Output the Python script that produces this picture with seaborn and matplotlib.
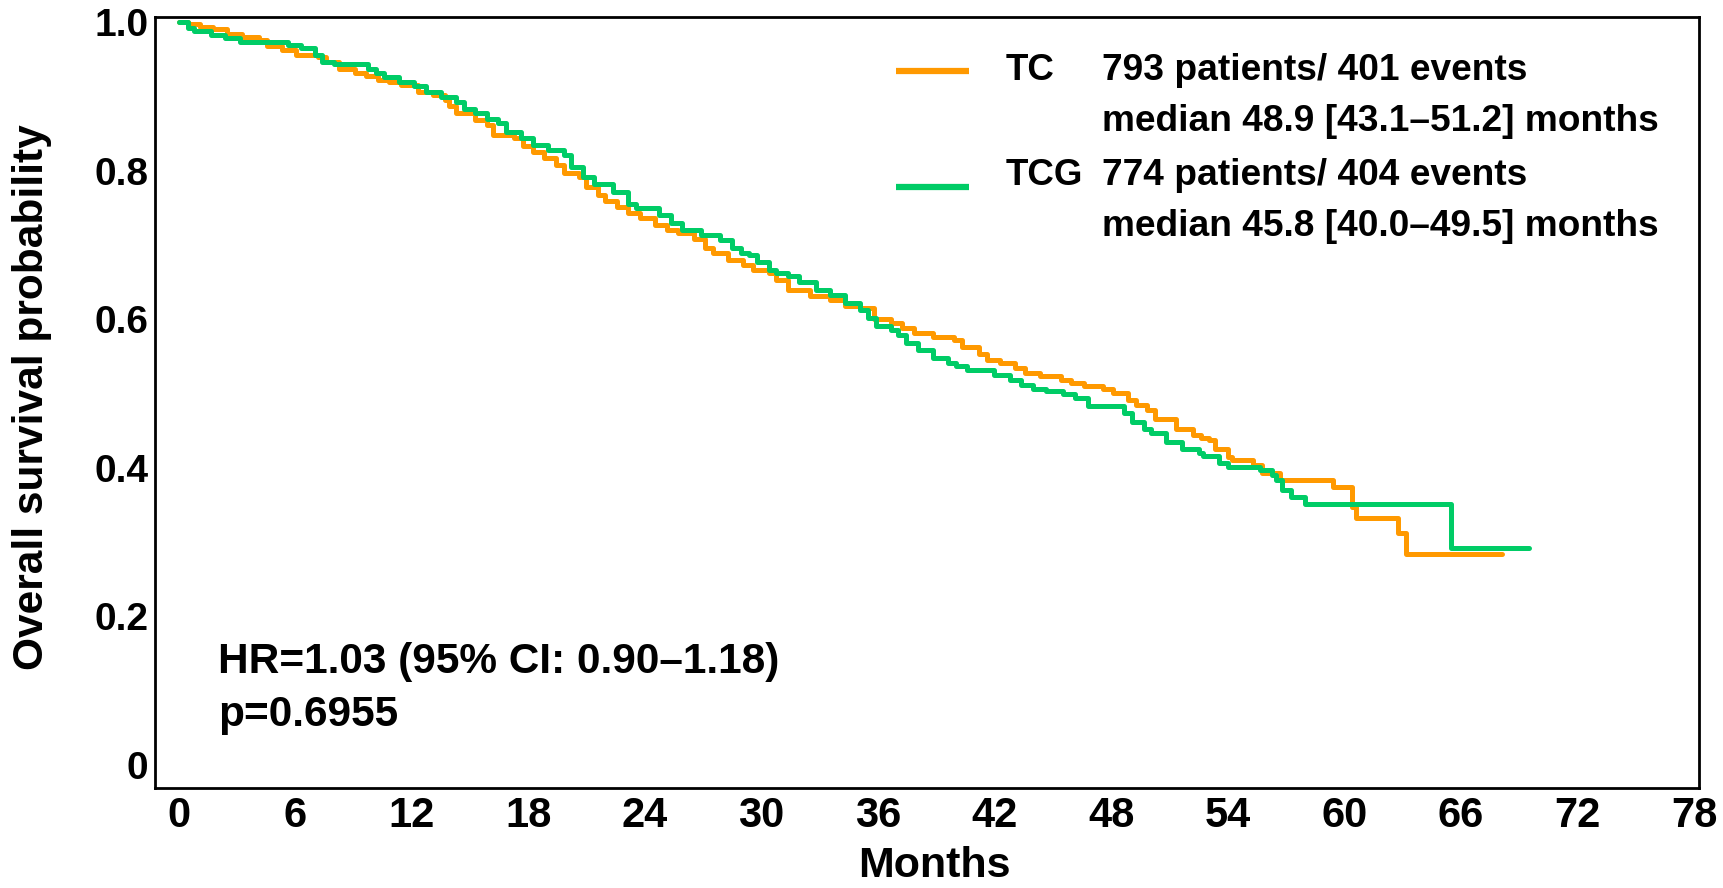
import matplotlib
matplotlib.use("Agg")
import matplotlib.pyplot as plt
import pandas as pd
import seaborn as sns

# Kaplan-Meier step points: time of each drop (months) and survival after it
tc_months = [0, 0.50, 1.09, 1.78, 2.47, 3.26, 4.15, 4.54, 5.33, 6.02,
             7.20, 7.59, 8.28, 9.07, 9.66, 10.25, 10.84, 11.43, 12.32, 13.11,
             13.70, 13.90, 14.29, 15.28, 15.87, 16.16, 17.24, 17.74, 18.23, 18.82,
             19.41, 19.81, 20.59, 20.99, 21.58, 21.97, 22.56, 23.15, 23.75, 24.53,
             25.12, 25.71, 26.50, 27.09, 27.49, 28.28, 29.06, 29.57, 30.36, 30.75,
             31.34, 32.52, 33.51, 34.30, 35.08, 35.77, 36.66, 37.25, 37.84, 38.83,
             39.91, 40.30, 41.19, 41.58, 42.27, 43.06, 43.55, 44.34, 45.42, 45.92,
             46.61, 47.59, 48.08, 48.87, 49.27, 49.86, 50.25, 51.33, 52.22, 52.63,
             53.02, 53.32, 54.01, 54.21, 55.29, 55.78, 56.67, 59.43, 60.41, 60.61,
             62.77, 63.17, 68.09]
tc_surv = [1.000, 0.998, 0.994, 0.991, 0.985, 0.981, 0.977, 0.968, 0.963, 0.956,
           0.954, 0.947, 0.937, 0.932, 0.928, 0.923, 0.920, 0.916, 0.906, 0.902,
           0.896, 0.887, 0.878, 0.869, 0.862, 0.849, 0.844, 0.833, 0.826, 0.817,
           0.808, 0.797, 0.792, 0.779, 0.768, 0.759, 0.752, 0.743, 0.736, 0.727,
           0.721, 0.716, 0.709, 0.696, 0.689, 0.680, 0.673, 0.667, 0.662, 0.653,
           0.640, 0.631, 0.626, 0.618, 0.615, 0.601, 0.595, 0.588, 0.582, 0.577,
           0.572, 0.563, 0.554, 0.546, 0.541, 0.534, 0.528, 0.524, 0.519, 0.514,
           0.510, 0.506, 0.501, 0.492, 0.485, 0.478, 0.466, 0.452, 0.444, 0.441,
           0.438, 0.425, 0.415, 0.411, 0.404, 0.393, 0.384, 0.375, 0.348, 0.332,
           0.312, 0.284, 0.284]

tcg_months = [0, 0.50, 0.80, 1.68, 2.37, 3.16, 5.62, 6.31, 7.00, 7.40,
              7.99, 9.76, 10.15, 10.55, 11.34, 12.12, 12.72, 13.50, 14.29, 14.68,
              15.28, 15.87, 16.46, 16.85, 17.64, 18.23, 19.02, 19.81, 20.20, 20.79,
              21.38, 22.37, 23.15, 23.55, 24.73, 25.32, 25.91, 26.90, 27.88, 28.47,
              28.96, 29.37, 29.77, 30.36, 30.75, 31.34, 31.93, 32.82, 33.51, 34.30,
              35.08, 35.48, 35.87, 36.66, 37.05, 37.45, 38.04, 38.83, 39.61, 40.01,
              40.60, 41.98, 42.77, 43.36, 43.95, 44.64, 45.52, 46.11, 46.80, 48.67,
              49.07, 49.66, 50.05, 50.84, 51.63, 52.53, 52.73, 53.52, 54.01, 55.68,
              56.27, 56.47, 56.77, 57.26, 57.95, 65.47, 69.51]
tcg_surv = [1.000, 0.992, 0.988, 0.983, 0.979, 0.974, 0.970, 0.965, 0.956, 0.947,
            0.944, 0.937, 0.932, 0.926, 0.920, 0.914, 0.907, 0.900, 0.893, 0.884,
            0.878, 0.870, 0.864, 0.852, 0.844, 0.835, 0.828, 0.822, 0.806, 0.792,
            0.783, 0.772, 0.756, 0.750, 0.741, 0.730, 0.721, 0.714, 0.707, 0.696,
            0.689, 0.687, 0.678, 0.667, 0.663, 0.659, 0.651, 0.640, 0.633, 0.622,
            0.613, 0.602, 0.591, 0.586, 0.579, 0.568, 0.559, 0.548, 0.541, 0.537,
            0.532, 0.525, 0.518, 0.512, 0.507, 0.503, 0.499, 0.494, 0.483, 0.474,
            0.462, 0.453, 0.447, 0.435, 0.426, 0.420, 0.416, 0.407, 0.401, 0.397,
            0.391, 0.384, 0.370, 0.361, 0.352, 0.292, 0.292]

arms = ["TC", "TCG"]
arm_colors = ["#FF9900", "#00CC66"]
arm_counts = ["793 patients/ 401 events", "774 patients/ 404 events"]
arm_medians = ["median 48.9 [43.1\u201351.2] months",
               "median 45.8 [40.0\u201349.5] months"]
x_ticks = list(range(0, 79, 6))
y_ticks = [0, 0.2, 0.4, 0.6, 0.8, 1.0]
y_tick_labels = ["0", "0.2", "0.4", "0.6", "0.8", "1.0"]
hr_label = "HR=1.03 (95% CI: 0.90\u20131.18)"
p_label = "p=0.6955"

df = pd.concat([
    pd.DataFrame({"Months": tc_months, "Survival": tc_surv, "Arm": arms[0]}),
    pd.DataFrame({"Months": tcg_months, "Survival": tcg_surv, "Arm": arms[1]}),
], ignore_index=True)

sns.set_theme(style="white")
plt.rcParams["font.family"] = ["Liberation Sans", "DejaVu Sans"]
plt.rcParams["font.weight"] = "bold"

fig = plt.figure(figsize=(17.23, 8.88), dpi=100)
ax = fig.add_axes([0.0900, 0.1126, 0.8961, 0.8688])

sns.lineplot(data=df, x="Months", y="Survival", hue="Arm", hue_order=arms,
             palette=dict(zip(arms, arm_colors)), estimator=None, sort=False,
             drawstyle="steps-post", linewidth=3.6, legend=False, ax=ax)

ax.set_xlim(-1.21, 78.25)
ax.set_ylim(-0.031, 1.008)
ax.set_xticks(x_ticks)
ax.set_xticklabels([str(t) for t in x_ticks], fontsize=30, fontweight="bold")
ax.set_yticks(y_ticks)
ax.set_yticklabels(y_tick_labels, fontsize=28, fontweight="bold")
ax.tick_params(axis="both", length=0, colors="black")
ax.tick_params(axis="x", pad=6)
ax.tick_params(axis="y", pad=5)

for side in ["left", "right", "top", "bottom"]:
    ax.spines[side].set_visible(True)
    ax.spines[side].set_color("black")
    ax.spines[side].set_linewidth(2)

ax.set_xlabel("Months", fontsize=31, fontweight="bold", color="black")
ax.set_ylabel("Overall survival probability", fontsize=30.5, fontweight="bold", color="black")
ax.xaxis.set_label_coords(0.505, -0.101)
ax.xaxis.label.set_verticalalignment("center")
ax.yaxis.set_label_coords(-0.0797, 0.507)
ax.yaxis.label.set_verticalalignment("center")

# Legend block: colour key, arm name, counts and median survival
key_y = [0.9297, 0.7794]
row_y = [(0.9177, 0.8516), (0.7816, 0.7155)]
for i in range(2):
    ax.plot([0.4799, 0.5272], [key_y[i], key_y[i]], color=arm_colors[i],
            linewidth=4.5, transform=ax.transAxes, solid_capstyle="butt")
    ax.text(0.551, row_y[i][0], arms[i], transform=ax.transAxes, fontsize=26.5,
            fontweight="bold", va="baseline", ha="left", color="black")
    ax.text(0.6132, row_y[i][0], arm_counts[i], transform=ax.transAxes, fontsize=26.7,
            fontweight="bold", va="baseline", ha="left", color="black")
    ax.text(0.6132, row_y[i][1], arm_medians[i], transform=ax.transAxes, fontsize=26.7,
            fontweight="bold", va="baseline", ha="left", color="black")

ax.text(0.0408, 0.149, hr_label, transform=ax.transAxes, fontsize=30.5,
        fontweight="bold", va="baseline", ha="left", color="black")
ax.text(0.0408, 0.080, p_label, transform=ax.transAxes, fontsize=30.5,
        fontweight="bold", va="baseline", ha="left", color="black")

fig.savefig("out.png", dpi=100)
